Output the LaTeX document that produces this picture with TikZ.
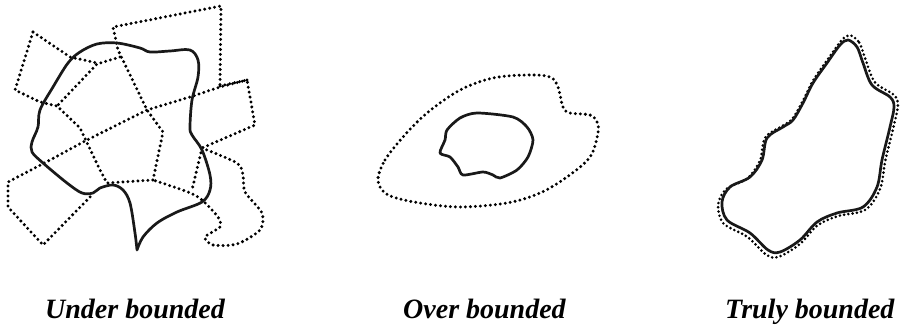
\documentclass[tikz,border=0pt]{standalone}
\usepackage{fontspec}
\setmainfont{Liberation Serif}
\begin{document}
\begin{tikzpicture}[x=1pt,y=-1pt,
  solidline/.style={line width=2.7pt,draw=black!90,line join=round,line cap=round},
  dotline/.style={line width=3.3pt,draw=black,dash pattern=on 0pt off 5pt,line cap=round,line join=round},
  smalldot/.style={line width=2.9pt,draw=black,dash pattern=on 0pt off 4.3pt,line cap=round},
  caption/.style={anchor=base west,inner sep=0pt,font=\fontsize{28}{32}\selectfont\bfseries\itshape}]
\useasboundingbox (0,0) rectangle (902,328);

% ---------- Under bounded ----------
\draw[dotline] (33,32) -- (15,90) -- (40,102) -- (57,106) -- (80,128) -- (100,170) -- (107,183) -- (153,180) -- (163,132) -- (147,110) -- (118,50) -- (113,27) -- (221,6) -- (220,85);
\draw[dotline] (33,32) -- (70,57) -- (97,63);
\draw[dotline] (120,57) -- (97,64) -- (58,105);
\draw[dotline] (220,86) -- (247,80) -- (255,125) -- (202,148);
\draw[dotline] plot[smooth,tension=0.45] coordinates {(202,148) (237,163) (243,175) (245,192) (262,213) (260,230) (237,244) (213,245) (205,237) (220,227) (218,217) (202,200) (188,192) (153,180)};
\draw[dotline] (247,80) -- (220,87) -- (190,97) -- (147,110) -- (127,120) -- (87,140) -- (50,160) -- (8,182) -- (8,207) -- (43,245) -- (92,195);
\draw[dotline] (202,148) -- (192,190);
\draw[solidline] plot[smooth,tension=0.55] coordinates {(137,250) (135,233) (130,203) (123,190) (113,185) (100,188) (93,193) (82,193) (67,183) (43,163) (32,152) (32,142) (38,127) (40,110) (53,87) (68,63) (80,52) (97,44) (117,43) (140,48) (150,52) (170,51) (190,50) (198,60) (198,77) (192,100) (190,127) (192,135) (202,150) (210,175) (210,190) (202,202) (177,212) (157,223) (143,237) (137,250)};

% ---------- Over bounded ----------
\draw[dotline] plot[smooth cycle,tension=0.55] coordinates {(378,178) (385,160) (403,137) (427,113) (460,90) (493,78) (527,75) (550,77) (558,87) (563,107) (570,113) (590,115) (597,122) (598,133) (590,157) (567,177) (540,193) (507,203) (460,207) (420,203) (393,197) (382,190)};
\draw[solidline] plot[smooth cycle,tension=0.45] coordinates {(447,130) (460,118) (477,113) (513,117) (527,127) (533,140) (528,157) (517,170) (500,178) (493,175) (483,172) (463,175) (458,167) (450,157) (440,153) (445,140)};

% ---------- Truly bounded ----------
\begin{scope}[shift={(808,146)},scale=1.045,shift={(-808,-146)}]
\draw[smalldot] plot[smooth cycle,tension=0.55] coordinates {(848,40) (857,47) (863,63) (872,85) (890,97) (894,107) (890,127) (882,160) (877,187) (863,207) (837,213) (817,222) (800,240) (780,252) (768,250) (750,233) (727,220) (722,202) (730,187) (750,177) (762,160) (767,138) (783,127) (793,120) (803,103) (813,83) (827,63) (840,45)};
\end{scope}
\draw[solidline] plot[smooth cycle,tension=0.55] coordinates {(848,40) (857,47) (863,63) (872,85) (890,97) (894,107) (890,127) (882,160) (877,187) (863,207) (837,213) (817,222) (800,240) (780,252) (768,250) (750,233) (727,220) (722,202) (730,187) (750,177) (762,160) (767,138) (783,127) (793,120) (803,103) (813,83) (827,63) (840,45)};

% ---------- captions ----------
\node[caption] (under) at (45,319) {Under bounded};
\node[caption] (over) at (403,319) {Over bounded};
\node[caption] (truly) at (725,319) {Truly bounded};
\end{tikzpicture}
\end{document}
